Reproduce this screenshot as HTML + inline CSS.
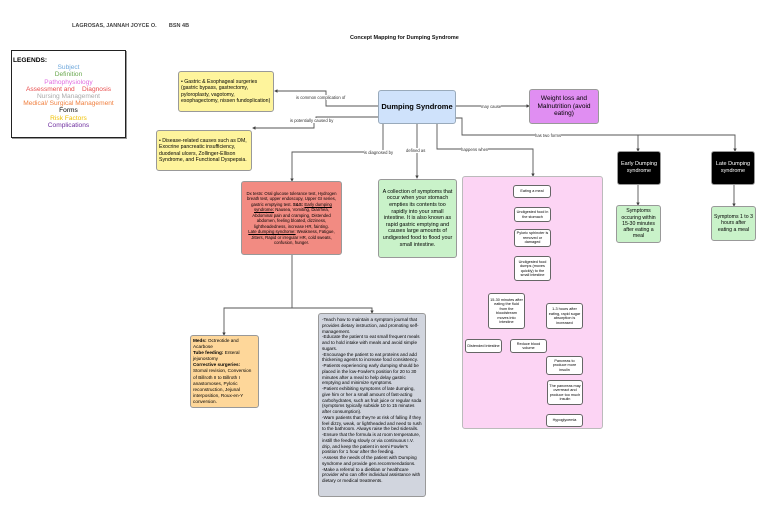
<!DOCTYPE html>
<html><head><style>
body{margin:0;width:768px;height:508px;background:#fff;position:relative;overflow:hidden;font-family:"Liberation Sans",sans-serif;}
.b{position:absolute;box-sizing:border-box;border:1px solid #999;border-radius:3px;font-size:5.2px;line-height:6.2px;color:#000;display:flex;align-items:center;justify-content:center;text-align:center;padding:2px;}
.w{background:#fff;border-color:#666;font-size:3.8px;line-height:4.5px;padding:1px;}
.t{position:absolute;font-size:4.2px;color:#333;background:#fff;white-space:nowrap;}
svg{position:absolute;left:0;top:0;}
</style></head><body>
<div style="position:absolute;left:72px;top:23px;font-size:5.5px;font-weight:bold;color:#444;">LAGROSAS, JANNAH JOYCE O.&nbsp;&nbsp;&nbsp;&nbsp;&nbsp;&nbsp;&nbsp;&nbsp;BSN 4B</div>
<div style="position:absolute;left:350px;top:35px;font-size:5.5px;font-weight:bold;color:#111;">Concept Mapping for Dumping Syndrome</div>
<div style="position:absolute;left:11px;top:50px;width:115px;height:88px;border:1px solid #222;box-sizing:border-box;box-shadow:1px 1px 0 #999;font-size:6.6px;line-height:7.2px;text-align:center;">
<div style="text-align:left;font-weight:bold;padding-left:1px;margin-top:6px">LEGENDS:</div>
<div style="color:#6fa8dc">Subject</div><div style="color:#6aa84f">Definition</div><div style="color:#e06fe0">Pathophysiology</div><div style="color:#e84c4c">Assessment and &nbsp;&nbsp;&nbsp;Diagnosis</div><div style="color:#aaa">Nursing Management</div><div style="color:#f08040">Medical/ Surgical Management</div><div>Forms</div><div style="color:#f0c000">Risk Factors</div><div style="color:#7030a0">Complications</div></div>

<svg width="768" height="508" fill="none" stroke="#555" stroke-width="0.9">
<defs><marker id="a" markerWidth="4" markerHeight="4" refX="3" refY="2" orient="auto"><path d="M0,0L4,2L0,4z" fill="#444" stroke="none"/></marker></defs>
<g marker-end="url(#a)">
<path d="M378,106H326V91H275"/>
<path d="M378,117H316V120H314V128H253"/>
<path d="M383,123V152H292V181"/>
<path d="M417,123V178"/>
<path d="M437,123V149H533V176"/>
<path d="M456,118H462V135H638V151"/>
<path d="M638,135H735V151"/>
<path d="M456,106H529"/>
<path d="M638,184V205"/>
<path d="M734,184V206"/>
<path d="M292,254V308H224V335"/>
<path d="M292,308H372V313"/>
<path d="M532,197V207"/><path d="M532,221V229"/><path d="M532,246V256"/>
<path d="M532,270H506V293"/><path d="M550,272H564V303"/>
<path d="M506,328V334H483V339"/><path d="M506,334H528V339"/>
<path d="M564,328V356"/><path d="M564,374V380"/><path d="M564,404V414"/>
</g></svg>
<div class="t" style="left:296px;top:95px">is common complication of</div>
<div class="t" style="left:290px;top:118px">is potentially caused by</div>
<div class="t" style="left:364px;top:150px">is diagnosed by</div>
<div class="t" style="left:406px;top:148px">defined as</div>
<div class="t" style="left:461px;top:147px">happens when</div>
<div class="t" style="left:535px;top:133px">has two forms</div>
<div class="t" style="left:481px;top:104px">may cause</div>

<div class="b" style="left:178px;top:71px;width:96px;height:41px;background:#fef49c;text-align:left;justify-content:flex-start">• Gastric &amp; Esophageal surgeries (gastric bypass, gastrectomy, pyloroplasty, vagotomy, esophagectomy, nissen fundoplication)</div>
<div class="b" style="left:156px;top:130px;width:96px;height:41px;background:#fef49c;text-align:left;justify-content:flex-start">• Disease-related causes such as DM, Exocrine pancreatic insufficiency, duodenal ulcers, Zollinger-Ellison Syndrome, and Functional Dyspepsia.</div>
<div class="b" style="left:378px;top:90px;width:78px;height:34px;background:#cfe2fb;border-color:#9ab;font-size:7.5px;font-weight:bold;">Dumping Syndrome</div>
<div class="b" style="left:529px;top:89px;width:70px;height:35px;background:#e08ef2;font-size:6.5px;line-height:7.5px">Weight loss and Malnutrition (avoid eating)</div>
<div class="b" style="left:617px;top:151px;width:44px;height:34px;background:#000;color:#fff;font-size:5.5px;line-height:7px">Early Dumping syndrome</div>
<div class="b" style="left:711px;top:151px;width:44px;height:34px;background:#000;color:#fff;font-size:5.5px;line-height:7px">Late Dumping syndrome</div>
<div class="b" style="left:616px;top:205px;width:45px;height:38px;background:#c9f2c9">Symptoms occuring within 15-30 minutes after eating a meal</div>
<div class="b" style="left:711px;top:206px;width:45px;height:35px;background:#c9f2c9">Symptoms 1 to 3 hours after eating a meal</div>
<div class="b" style="left:241px;top:181px;width:101px;height:74px;background:#f28b82;font-size:4.3px;line-height:5.5px"><div>Dx tests: Oral glucose tolerance test, Hydrogen breath test, upper endoscopy, Upper GI series, gastric emptying test. <b>S&amp;S:</b> <u>Early dumping syndrome:</u> Nausea, Vomiting, Diarrhea, Abdominal pain and cramping, Distended abdomen, feeling bloated, dizziness, lightheadedness, increase HR, fainting.<br><u>Late dumping syndrome:</u> Weakness, Fatigue, Jitters, Rapid or irregular HR, cold sweats, confusion, hunger.</div></div>
<div class="b" style="left:378px;top:179px;width:79px;height:79px;background:#c9f2c9;font-size:5.4px;line-height:6.6px">A collection of symptoms that occur when your stomach empties its contents too rapidly into your small intestine. It is also known as rapid gastric emptying and causes large amounts of undigested food to flood your small intestine.</div>
<div class="b" style="left:462px;top:176px;width:141px;height:253px;background:#fcd4f4;border-color:#bbb"></div>
<div class="b w" style="left:513px;top:185px;width:38px;height:13px">Eating a meal</div>
<div class="b w" style="left:514px;top:207px;width:37px;height:15px">Undigested food in the stomach</div>
<div class="b w" style="left:514px;top:229px;width:37px;height:18px">Pyloric sphincter is removed or damaged</div>
<div class="b w" style="left:514px;top:256px;width:37px;height:25px">Undigested food dumps (moves quickly) to the small intestine</div>
<div class="b w" style="left:488px;top:293px;width:37px;height:36px">15-30 minutes after eating the fluid from the bloodstream moves into intestine</div>
<div class="b w" style="left:546px;top:303px;width:37px;height:26px">1-3 hours after eating, rapid sugar absorption is increased</div>
<div class="b w" style="left:465px;top:339px;width:37px;height:14px">Distended intestine</div>
<div class="b w" style="left:510px;top:339px;width:37px;height:14px">Reduce blood volume</div>
<div class="b w" style="left:546px;top:356px;width:37px;height:19px">Pancreas to produce more insulin</div>
<div class="b w" style="left:547px;top:380px;width:36px;height:25px">The pancreas may overreact and produce too much insulin</div>
<div class="b w" style="left:546px;top:414px;width:37px;height:13px">Hypoglycemia</div>
<div class="b" style="left:190px;top:335px;width:69px;height:73px;background:#fed79a;text-align:left;justify-content:flex-start;font-size:4.7px;line-height:6.1px"><div><b>Meds:</b> Octreotide and Acarbose<br><b>Tube feeding:</b> Enteral jejunostomy<br><b>Corrective surgeries:</b> Stomal revision, Conversion of Billroth II to Billroth I anastomoses, Pyloric reconstruction, Jejunal interposition, Roux-en-Y conversion.</div></div>
<div class="b" style="left:318px;top:313px;width:108px;height:184px;background:#d1d5de;text-align:left;justify-content:flex-start;align-items:flex-start;font-size:4.6px;line-height:5.75px;padding:3px 3px"><div>-Teach how to maintain a symptom journal that provides dietary instruction, and promoting self-management.<br>-Educate the patient to eat small frequent meals and to hold intake with meals and avoid simple sugars.<br>-Encourage the patient to eat proteins and add thickening agents to increase food consistency.<br>-Patients experiencing early dumping should be placed in the low-Fowler's position for 20 to 30 minutes after a meal to help delay gastric emptying and minimize symptoms.<br>-Patient exhibiting symptoms of late dumping, give him or her a small amount of fast-acting carbohydrates, such as fruit juice or regular soda (symptoms typically subside 10 to 15 minutes after consumption).<br>-Warn patients that they're at risk of falling if they feel dizzy, weak, or lightheaded and need to rush to the bathroom. Always raise the bed siderails.<br>-Ensure that the formula is at room temperature, instill the feeding slowly or via continuous I.V. drip, and keep the patient in semi Fowler's position for 1 hour after the feeding.<br>-Assess the needs of the patient with Dumping syndrome and provide gen.recommendations.<br>-Make a referral to a dietitian or healthcare provider who can offer individual assistance with dietary or medical treatments.</div></div>
</body></html>
